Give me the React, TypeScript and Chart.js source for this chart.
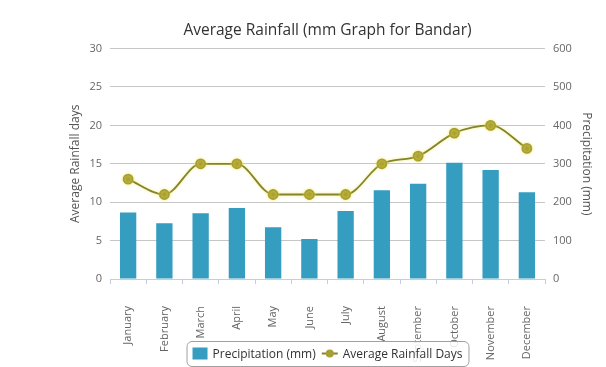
import React, { useEffect, useRef } from "react";
import { Chart, registerables } from "chart.js";

Chart.register(...registerables);

const TITLE = "Average Rainfall (mm Graph for Bandar)";
const months = [
  "January", "February", "March", "April", "May", "June",
  "July", "August", "September", "October", "November", "December",
];
const precipitationMm = [173, 145, 171, 185, 135, 104, 177, 231, 248, 303, 284, 226];
const rainfallDays = [13, 11, 15, 15, 11, 11, 11, 15, 16, 19, 20, 17];
const LABEL_PRECIP = "Precipitation (mm)";
const LABEL_DAYS = "Average Rainfall Days";

const BAR_COLOR = "#359dbf";
const LINE_COLOR = "#84842c";
const POINT_COLOR = "#a89f34";
const FONT = '"Open Sans", "DejaVu Sans", sans-serif';

const glowPlugin = {
  id: "lineGlow",
  beforeDatasetDraw(chart: any, args: any) {
    if (chart.data.datasets[args.index].type === "line") {
      const ctx = chart.ctx;
      ctx.save();
      ctx.shadowColor = "rgba(240, 230, 70, 0.7)";
      ctx.shadowBlur = 3;
    }
  },
  afterDatasetDraw(chart: any, args: any) {
    if (chart.data.datasets[args.index].type === "line") {
      chart.ctx.restore();
    }
  },
};

const legendPlugin = {
  id: "boxLegend",
  afterDraw(chart: any) {
    const ctx = chart.ctx;
    const ca = chart.chartArea;
    const t1 = LABEL_PRECIP;
    const t2 = LABEL_DAYS;
    ctx.save();
    ctx.font = `12px ${FONT}`;
    const w1 = ctx.measureText(t1).width;
    const w2 = ctx.measureText(t2).width;
    const pad = 6, sw = 15, gap = 5, spacing = 6, sym = 16;
    const total = pad + sw + gap + w1 + spacing + sym + gap + w2 + pad;
    const cx = (ca.left + ca.right) / 2;
    const x0 = cx - total / 2;
    const h = 25;
    const y0 = chart.height - h - 1;
    ctx.fillStyle = "rgba(255,255,255,0.85)";
    ctx.strokeStyle = "#a0a0a0";
    ctx.lineWidth = 1;
    ctx.beginPath();
    ctx.roundRect(x0 + 0.5, y0 + 0.5, total, h, 5);
    ctx.fill();
    ctx.stroke();
    const my = y0 + h / 2;
    let x = x0 + pad;
    ctx.fillStyle = BAR_COLOR;
    ctx.fillRect(x, my - 6, sw, 12);
    x += sw + gap;
    ctx.fillStyle = "#333";
    ctx.textBaseline = "middle";
    ctx.textAlign = "left";
    ctx.fillText(t1, x, my + 1);
    x += w1 + spacing;
    ctx.strokeStyle = LINE_COLOR;
    ctx.lineWidth = 2;
    ctx.beginPath();
    ctx.moveTo(x, my);
    ctx.lineTo(x + sym, my);
    ctx.stroke();
    ctx.fillStyle = POINT_COLOR;
    ctx.beginPath();
    ctx.arc(x + sym / 2, my, 4, 0, Math.PI * 2);
    ctx.fill();
    x += sym + gap;
    ctx.fillStyle = "#333";
    ctx.fillText(t2, x, my + 1);
    ctx.restore();
  },
};

export default function App() {
  const ref = useRef<HTMLCanvasElement | null>(null);
  useEffect(() => {
    if (!ref.current) return;
    const chart = new Chart(ref.current, {
      type: "bar",
      data: {
        labels: months,
        datasets: [
          {
            type: "bar",
            label: LABEL_PRECIP,
            data: precipitationMm,
            backgroundColor: BAR_COLOR,
            yAxisID: "y1",
            barPercentage: 0.45,
            categoryPercentage: 1,
            order: 2,
          } as any,
          {
            type: "line",
            label: LABEL_DAYS,
            data: rainfallDays,
            borderColor: LINE_COLOR,
            borderWidth: 1.8,
            pointBackgroundColor: POINT_COLOR,
            pointBorderColor: POINT_COLOR,
            pointRadius: 4.5,
            cubicInterpolationMode: "monotone",
            yAxisID: "y",
            order: 1,
          } as any,
        ],
      },
      options: {
        responsive: false,
        animation: false,
        layout: { padding: { left: 0, right: 0, top: 0, bottom: 0 } },
        plugins: {
          legend: { display: false },
          tooltip: { enabled: false },
          title: {
            display: true,
            text: TITLE,
            fullSize: false,
            color: "#333",
            font: { family: FONT, size: 15.5, weight: "normal" },
            padding: { top: 21, bottom: 9 },
          },
        },
        scales: {
          x: {
            offset: true,
            grid: {
              display: true,
              drawOnChartArea: false,
              drawTicks: true,
              tickLength: 5,
              color: "#c0d0e0",
              offset: true,
            },
            border: { display: true, color: "#c0d0e0" },
            ticks: {
              color: "#666",
              font: { family: FONT, size: 11 },
              minRotation: 90,
              maxRotation: 90,
              padding: 22,
              autoSkip: false,
            },
            afterFit: (s: any) => { s.height = 88; },
          },
          y: {
            position: "left",
            min: 0,
            max: 30,
            ticks: {
              stepSize: 5,
              color: "#666",
              font: { family: FONT, size: 11 },
              padding: 8,
            },
            grid: { color: "#c6c6c6", drawTicks: false },
            border: { display: false },
            title: {
              display: true,
              text: "Average Rainfall days",
              color: "#555",
              font: { family: FONT, size: 12, weight: "normal" },
              padding: { top: 68, bottom: 0 },
            },
            afterFit: (s: any) => { s.width = 110; },
          },
          y1: {
            position: "right",
            min: 0,
            max: 600,
            ticks: {
              stepSize: 100,
              color: "#666",
              font: { family: FONT, size: 11 },
              padding: 8,
            },
            grid: { drawOnChartArea: false, drawTicks: false },
            border: { display: false },
            title: {
              display: true,
              text: "Precipitation (mm)",
              color: "#555",
              font: { family: FONT, size: 12, weight: "normal" },
              padding: { top: 12, bottom: 0 },
            },
            afterFit: (s: any) => { s.width = 61; },
          },
        },
      } as any,
      plugins: [glowPlugin, legendPlugin],
    });
    return () => chart.destroy();
  }, []);
  return (
    <div style={{ position: "fixed", left: 0, top: 0, width: 606, height: 367, background: "#fff" }}>
      <canvas ref={ref} width={606} height={367} />
    </div>
  );
}
